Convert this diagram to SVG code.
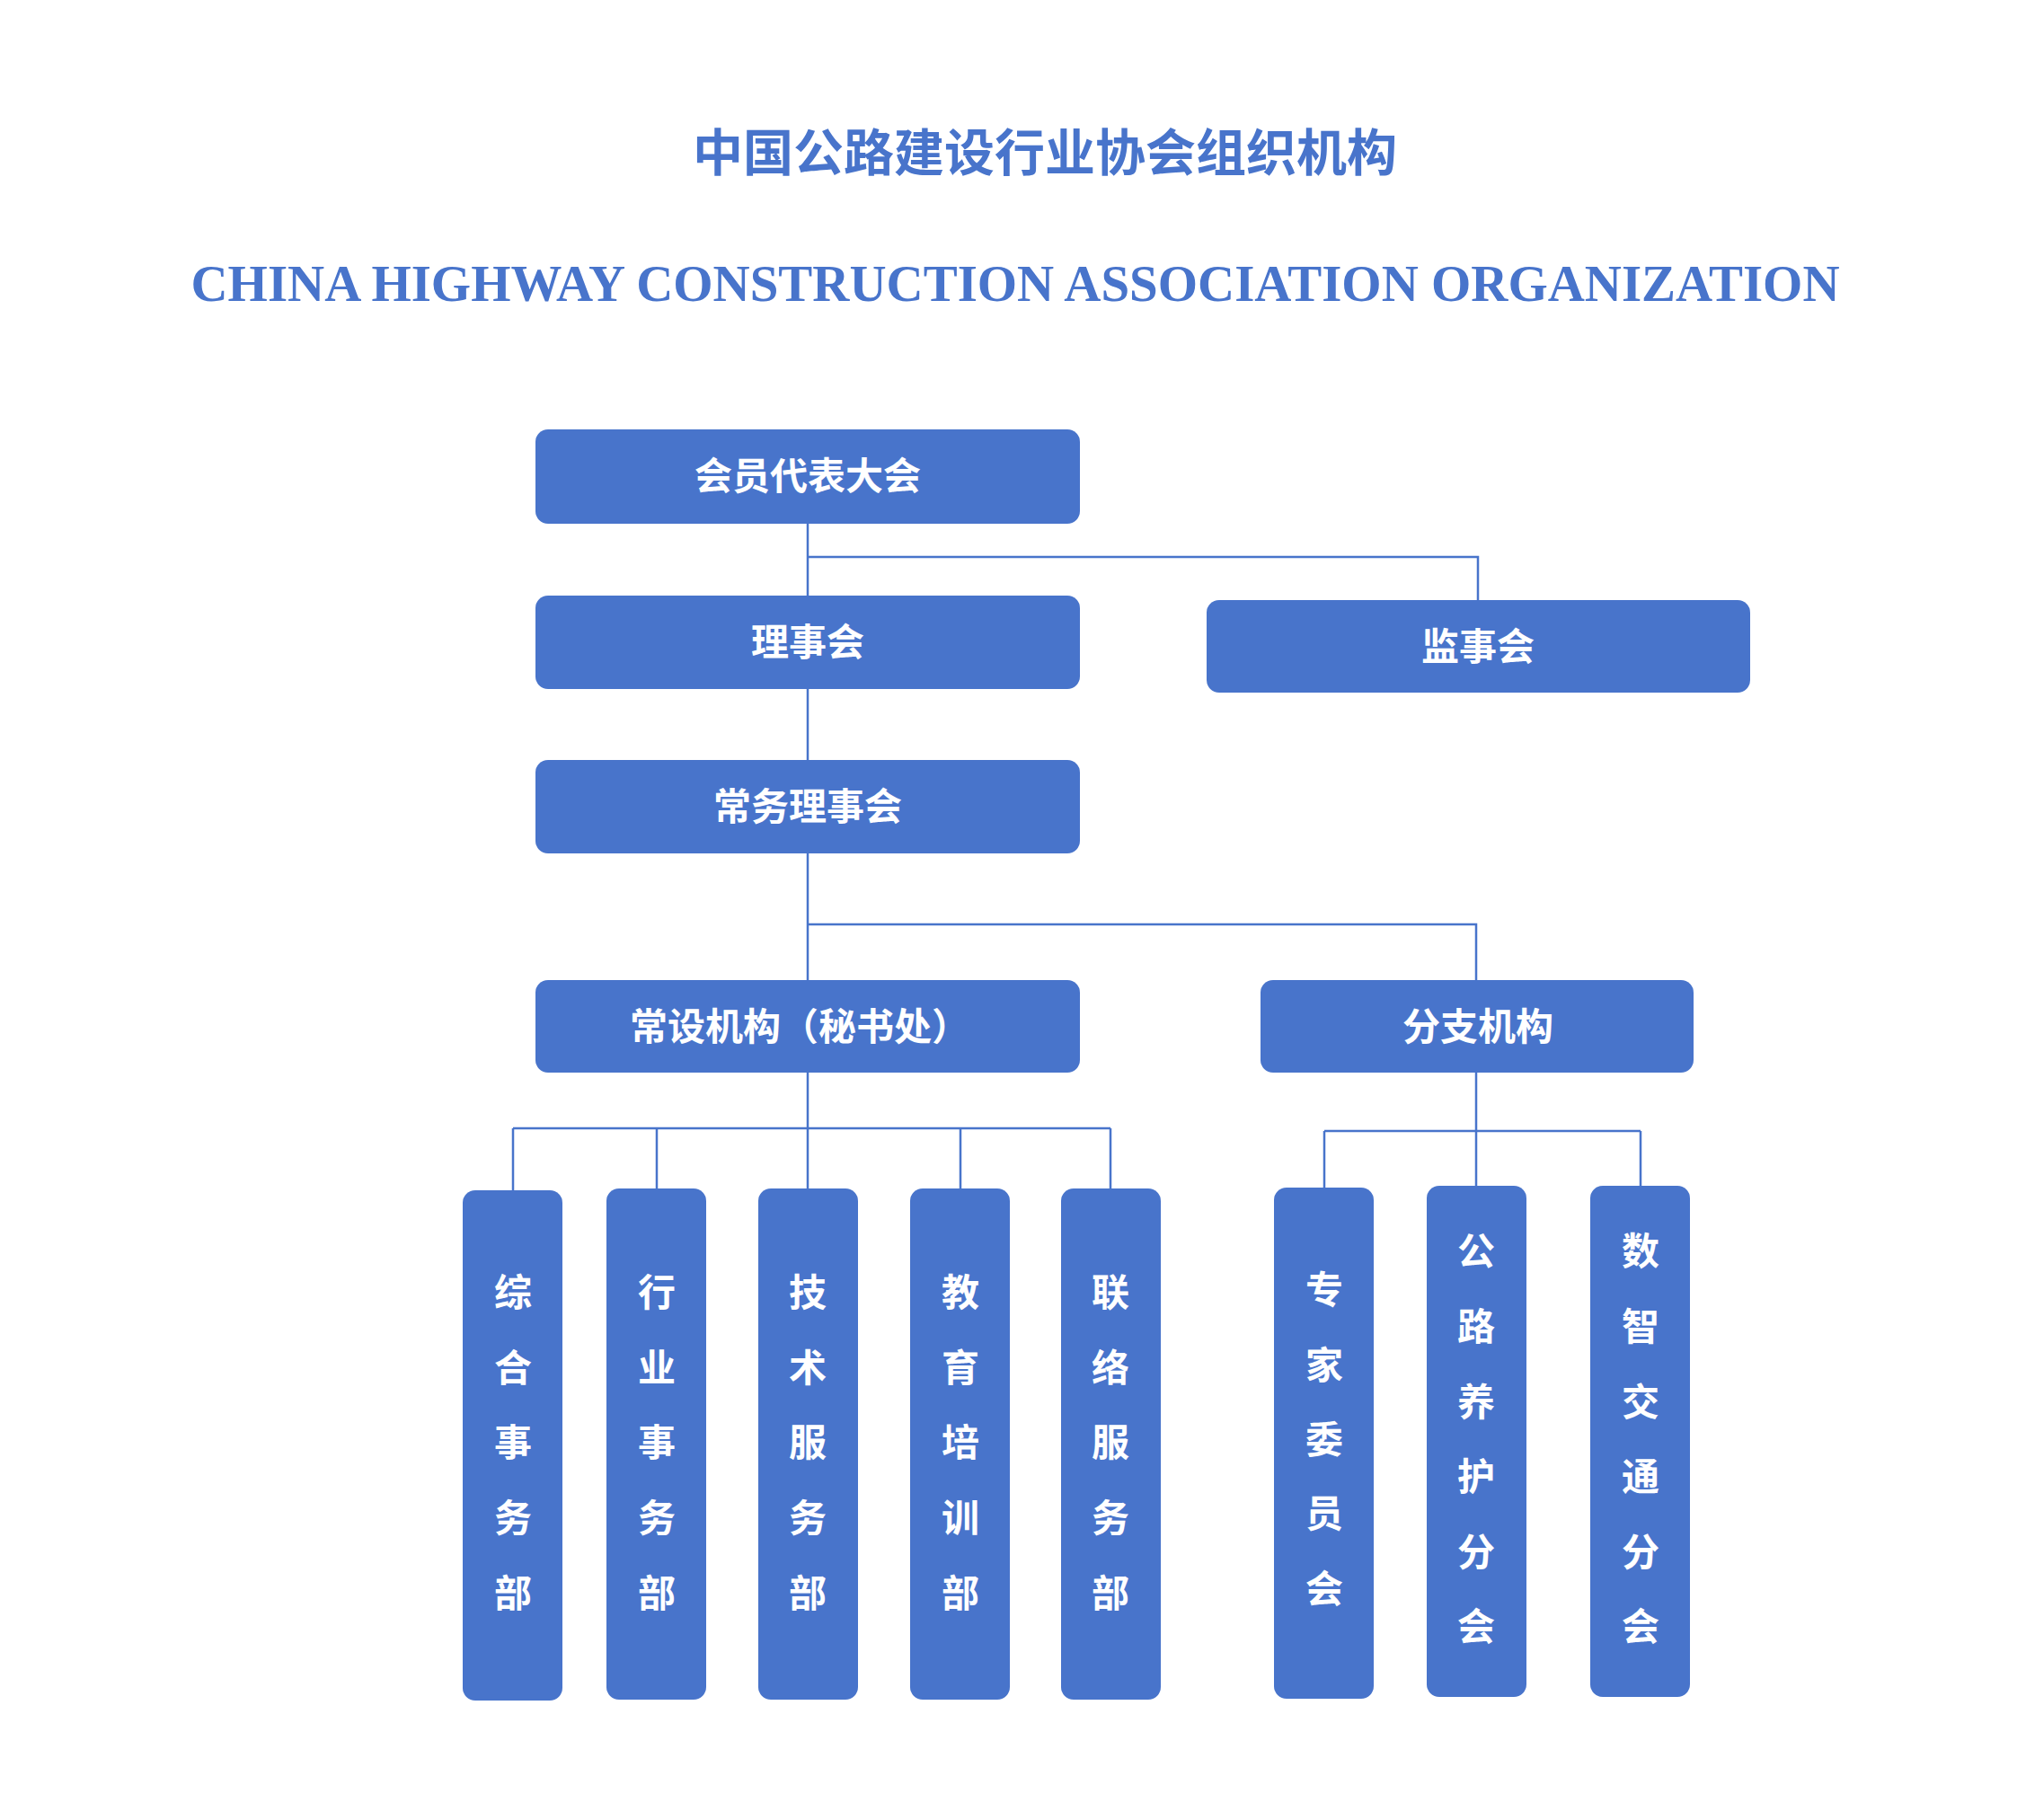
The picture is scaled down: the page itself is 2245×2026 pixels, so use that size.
<svg xmlns="http://www.w3.org/2000/svg" width="2245" height="2026" viewBox="0 0 2245 2026">
<style>
.b{fill:#4874CB}
.t{fill:#fff;font-family:"Liberation Serif","Noto Sans CJK SC",serif;font-weight:bold;font-size:42px;text-anchor:middle}
.h{fill:#4874CB;font-family:"Liberation Serif","Noto Sans CJK SC",serif;font-weight:bold;text-anchor:middle}
.c{fill:none;stroke:#4874CB;stroke-width:2.5}
</style>
<rect width="2245" height="2026" fill="#fff"/>
<text class="h" x="1163" y="190" font-size="56">中国公路建设行业协会组织机构</text>
<text class="h" x="1130" y="335" font-size="56" textLength="1835" lengthAdjust="spacingAndGlyphs">CHINA HIGHWAY CONSTRUCTION ASSOCIATION ORGANIZATION</text>
<g id="connectors">
<path class="c" d="M899 583V1091M899 620H1645V668M899 1029H1643V1091"/>
<path class="c" d="M899 1194V1325M571 1256H1236M571 1256V1325M731 1256V1325M1069 1256V1325M1236 1256V1325"/>
<path class="c" d="M1643 1194V1320M1474 1259H1826M1474 1259V1322M1826 1259V1320"/>
</g>
<g id="n1"><rect class="b" x="596" y="478" width="606" height="105" rx="14"/><text class="t" x="899" y="545">会员代表大会</text></g>
<g id="n2"><rect class="b" x="596" y="663" width="606" height="104" rx="14"/><text class="t" x="899" y="730">理事会</text></g>
<g id="n3"><rect class="b" x="1343" y="668" width="605" height="103" rx="14"/><text class="t" x="1645" y="735">监事会</text></g>
<g id="n4"><rect class="b" x="596" y="846" width="606" height="104" rx="14"/><text class="t" x="899" y="913">常务理事会</text></g>
<g id="n5"><rect class="b" x="596" y="1091" width="606" height="103" rx="14"/><text class="t" x="890" y="1158">常设机构（秘书处）</text></g>
<g id="n6"><rect class="b" x="1403" y="1091" width="482" height="103" rx="14"/><text class="t" x="1645" y="1158">分支机构</text></g>
<g id="d1"><rect class="b" x="515" y="1325" width="111" height="568" rx="14"/><text class="t" x="571"><tspan x="571" y="1454">综</tspan><tspan x="571" y="1538">合</tspan><tspan x="571" y="1621">事</tspan><tspan x="571" y="1705">务</tspan><tspan x="571" y="1789">部</tspan></text></g>
<g id="d2"><rect class="b" x="675" y="1323" width="111" height="569" rx="14"/><text class="t"><tspan x="731" y="1454">行</tspan><tspan x="731" y="1538">业</tspan><tspan x="731" y="1621">事</tspan><tspan x="731" y="1705">务</tspan><tspan x="731" y="1789">部</tspan></text></g>
<g id="d3"><rect class="b" x="844" y="1323" width="111" height="569" rx="14"/><text class="t"><tspan x="899" y="1454">技</tspan><tspan x="899" y="1538">术</tspan><tspan x="899" y="1621">服</tspan><tspan x="899" y="1705">务</tspan><tspan x="899" y="1789">部</tspan></text></g>
<g id="d4"><rect class="b" x="1013" y="1323" width="111" height="569" rx="14"/><text class="t"><tspan x="1069" y="1454">教</tspan><tspan x="1069" y="1538">育</tspan><tspan x="1069" y="1621">培</tspan><tspan x="1069" y="1705">训</tspan><tspan x="1069" y="1789">部</tspan></text></g>
<g id="d5"><rect class="b" x="1181" y="1323" width="111" height="569" rx="14"/><text class="t"><tspan x="1236" y="1454">联</tspan><tspan x="1236" y="1538">络</tspan><tspan x="1236" y="1621">服</tspan><tspan x="1236" y="1705">务</tspan><tspan x="1236" y="1789">部</tspan></text></g>
<g id="e1"><rect class="b" x="1418" y="1322" width="111" height="569" rx="14"/><text class="t"><tspan x="1474" y="1451">专</tspan><tspan x="1474" y="1535">家</tspan><tspan x="1474" y="1618">委</tspan><tspan x="1474" y="1700">员</tspan><tspan x="1474" y="1784">会</tspan></text></g>
<g id="e2"><rect class="b" x="1588" y="1320" width="111" height="569" rx="14"/><text class="t"><tspan x="1643" y="1408">公</tspan><tspan x="1643" y="1492">路</tspan><tspan x="1643" y="1576">养</tspan><tspan x="1643" y="1659">护</tspan><tspan x="1643" y="1743">分</tspan><tspan x="1643" y="1826">会</tspan></text></g>
<g id="e3"><rect class="b" x="1770" y="1320" width="111" height="569" rx="14"/><text class="t"><tspan x="1826" y="1408">数</tspan><tspan x="1826" y="1492">智</tspan><tspan x="1826" y="1576">交</tspan><tspan x="1826" y="1659">通</tspan><tspan x="1826" y="1743">分</tspan><tspan x="1826" y="1826">会</tspan></text></g>
</svg>
